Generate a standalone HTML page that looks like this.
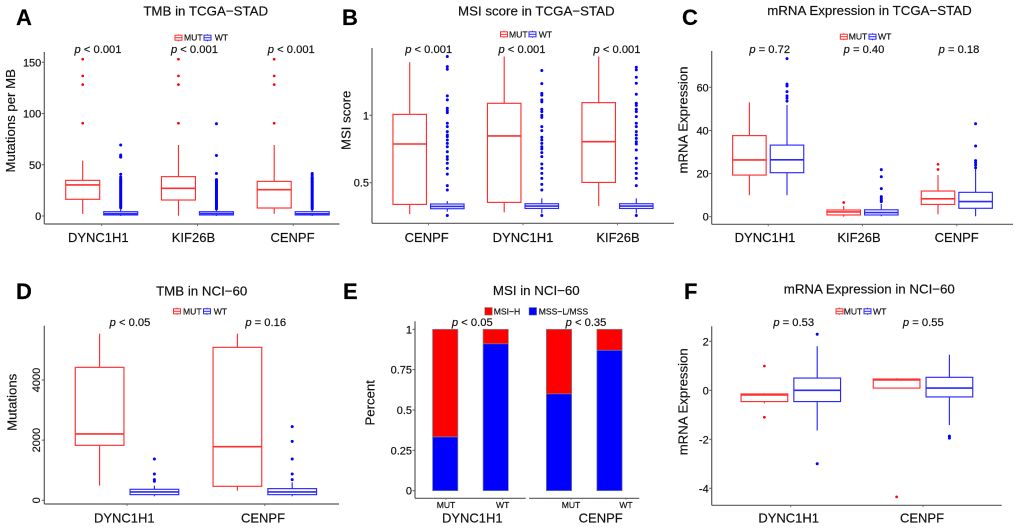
<!DOCTYPE html>
<html lang="en">
<head>
<meta charset="utf-8">
<title>Mutation association panels</title>
<style>
html,body{margin:0;padding:0;background:#fff;width:1020px;height:528px;overflow:hidden}
svg{display:block;font-family:"Liberation Sans",sans-serif;fill:#111;filter:blur(0.35px)}
text{stroke:#111;stroke-width:.18px}
</style>
</head>
<body>
<svg id="figure" xmlns="http://www.w3.org/2000/svg" width="1020" height="528" viewBox="0 0 1020 528"></svg>
<script>
// ===== Panel A: TMB in TCGA-STAD =====
const aTitle = "TMB in TCGA\u2212STAD";
const aYTitle = "Mutations per MB";
const aCategories = ["DYNC1H1", "KIF26B", "CENPF"];
const aPValues = ["< 0.001", "< 0.001", "< 0.001"];
const aYTicks = [0, 50, 100, 150];
// low whisker, q1, median, q3, high whisker
const aMut = [[2, 16.3, 30.3, 34.8, 54], [0.3, 15.6, 27, 38.4, 69.3], [2, 7.8, 25.7, 33.8, 69.3]];
const aWt = [[0, 1, 2.3, 4.2, 7.5], [0, 1, 2.4, 4.2, 7], [0, 1, 2.2, 4.2, 7]];
const aMutOutliers = [[153, 136.7, 128.2, 90.5], [153, 136.7, 128.2, 90.5], [153, 136.7, 128.2, 90.5]];
const aWtOutliers = [
  [69.3, 59.5, 58, 57.5, 40.7, 38, 36, 35, 34, 33, 32, 31, 30, 29, 28, 27, 26, 25, 24, 23, 22, 21, 20, 19, 18, 17, 16, 15, 14, 13, 12, 11, 10, 9, 8],
  [90, 59, 41.5, 35.5, 35, 34, 33, 32, 31, 30, 29, 28, 27, 26, 25, 24, 23, 22, 21, 20, 19, 18, 17, 16, 15, 14, 13, 12, 11, 10, 9, 8, 7],
  [41.5, 40, 38, 37, 36, 35, 34, 33, 32, 31, 30, 29, 28, 27, 26, 25, 24, 23, 22, 21, 20, 19, 18, 17, 16, 15, 14, 13, 12, 11, 10, 9, 8, 7]
];

// ===== Panel B: MSI score in TCGA-STAD =====
const bTitle = "MSI score in TCGA\u2212STAD";
const bYTitle = "MSI score";
const bCategories = ["CENPF", "DYNC1H1", "KIF26B"];
const bPValues = ["< 0.001", "< 0.001", "< 0.001"];
const bYTicks = [0.5, 1];
const bMut = [[0.267, 0.339, 0.787, 1.007, 1.394], [0.28, 0.354, 0.847, 1.089, 1.436], [0.327, 0.502, 0.804, 1.094, 1.436]];
const bWt = [[0.285, 0.307, 0.324, 0.342, 0.364], [0.272, 0.309, 0.327, 0.344, 0.384], [0.272, 0.309, 0.327, 0.344, 0.384]];
const bMutOutliers = [[], [], []];
const bWtOutliers = [
  [1.436, 1.361, 1.342, 1.144, 1.114, 1.052, 1.035, 1.02, 0.941, 0.916, 0.879, 0.854, 0.842, 0.817, 0.792, 0.767, 0.73, 0.693, 0.673, 0.644, 0.606, 0.564, 0.478, 0.446, 0.257],
  [1.332, 1.235, 1.163, 1.15, 1.114, 1.1, 1.045, 1.027, 1.0, 0.985, 0.916, 0.886, 0.837, 0.817, 0.792, 0.767, 0.75, 0.723, 0.693, 0.639, 0.606, 0.569, 0.532, 0.488, 0.446, 0.257],
  [1.356, 1.337, 1.282, 1.238, 1.156, 1.089, 1.074, 1.045, 1.027, 0.99, 0.941, 0.916, 0.879, 0.854, 0.829, 0.804, 0.787, 0.743, 0.681, 0.644, 0.606, 0.569, 0.532, 0.478, 0.257]
];

// ===== Panel C: mRNA Expression in TCGA-STAD =====
const cTitle = "mRNA Expression in TCGA\u2212STAD";
const cYTitle = "mRNA Expression";
const cCategories = ["DYNC1H1", "KIF26B", "CENPF"];
const cPValues = ["= 0.72", "= 0.40", "= 0.18"];
const cYTicks = [0, 20, 40, 60];
const cMut = [[10, 19.3, 26.3, 37.6, 53], [0, 0.8, 2.2, 3.1, 5], [1.1, 5.7, 8.3, 11.9, 19.3]];
const cWt = [[10, 20.4, 26.4, 33.2, 51.8], [0.2, 0.8, 1.9, 3.2, 5.9], [0.2, 3.9, 7, 11.3, 22.4]];
const cMutOutliers = [[], [6.6], [24.3, 21.9]];
const cWtOutliers = [[73.3, 61.5, 60.6, 58, 56, 54.9, 53.6], [21.8, 18.5, 13, 9.3, 8.5, 7.7, 7], [43.1, 32.8, 26, 25, 24, 22.7]];

// ===== Panel D: TMB in NCI-60 =====
const dTitle = "TMB in NCI\u221260";
const dYTitle = "Mutations";
const dCategories = ["DYNC1H1", "CENPF"];
const dPValues = ["< 0.05", "= 0.16"];
const dYTicks = [0, 2000, 4000];
const dMut = [[488, 1828, 2205, 4421, 5540], [321, 465, 1784, 5086, 5540]];
const dWt = [[133, 188, 277, 366, 488], [133, 188, 277, 388, 598]];
const dMutOutliers = [[], []];
const dWtOutliers = [[1374, 875, 687, 632], [2449, 1961, 1374, 875, 687]];

// ===== Panel E: MSI in NCI-60 =====
const eTitle = "MSI in NCI\u221260";
const eYTitle = "Percent";
const eFacets = ["DYNC1H1", "CENPF"];
const eGroups = ["MUT", "WT"];
const ePValues = ["< 0.05", "< 0.35"];
const eYTicks = [0, 0.25, 0.5, 0.75, 1];
const eYTickLabels = ["0", "0.25", "0.5", "0.75", "1"];
const eSeriesNames = ["MSI\u2212H", "MSS\u2212L/MSS"];
// share of MSS-L/MSS per facet, per group; the remainder is MSI-H
const eMss = [[0.333, 0.91], [0.6, 0.87]];

// ===== Panel F: mRNA Expression in NCI-60 =====
const fTitle = "mRNA Expression in NCI\u221260";
const fYTitle = "mRNA Expression";
const fCategories = ["DYNC1H1", "CENPF"];
const fPValues = ["= 0.53", "= 0.55"];
const fYTicks = [-4, -2, 0, 2];
const fMut = [[-0.53, -0.46, -0.19, -0.15, -0.12], [0.08, 0.09, 0.42, 0.46, 0.49]];
const fWt = [[-1.64, -0.46, 0, 0.5, 1.8], [-1.42, -0.27, 0.09, 0.53, 1.45]];
const fMutOutliers = [[0.99, -1.1], [-4.35]];
const fWtOutliers = [[2.29, -3], [-1.87, -1.95]];

const legendNames = ["MUT", "WT"];

const NS = "http://www.w3.org/2000/svg";
const RED = "#ff3030";
const BLUE = "#2a2aff";
const AXIS = "#5a5a5a";
const root = document.getElementById("figure");

function node(parent, tag, attrs, text) {
  const el = document.createElementNS(NS, tag);
  for (const k in attrs) el.setAttribute(k, attrs[k]);
  if (text !== undefined) el.textContent = text;
  parent.appendChild(el);
  return el;
}
function linear(v0, p0, v1, p1) {
  return v => p0 + (v - v0) * (p1 - p0) / (v1 - v0);
}
function line(parent, x1, y1, x2, y2, stroke, w) {
  return node(parent, "line", {x1, y1, x2, y2, stroke, "stroke-width": w});
}

function drawFrame(g, c, title, yTitle) {
  const letter = node(g, "text", {x: c.letterX, y: c.letterY, "font-size": 22, "font-weight": "bold", fill: "#000"}, c.letter);
  
  
  const t = node(g, "text", {x: c.titleX, y: c.titleY, "font-size": 13.3, "text-anchor": "middle"}, title);
  
  
  const yt = node(g, "text", {x: 0, y: 0, "font-size": 13.2, "text-anchor": "middle", transform: `translate(${c.yTitleX},${c.yTitleY}) rotate(-90)`}, yTitle);
  
  
  const ya = line(g, c.axisX, c.top, c.axisX, c.bottom, AXIS, 1.2);
  
  
}
function drawYTicks(g, c, y, ticks, labels) {
  ticks.forEach((v, i) => {
    const py = y(v);
    const tk = line(g, c.axisX - 2.5, py, c.axisX, py, AXIS, 1);
    
    
    const attrs = c.rotateTicks
      ? {x: 0, y: 0, "font-size": 11, "text-anchor": "middle", transform: `translate(${c.axisX - 4.5},${py}) rotate(-90)`}
      : {x: c.axisX - 3, y: py + 4, "font-size": 11, "text-anchor": "end"};
    const lb = node(g, "text", attrs, labels ? labels[i] : String(v));
    
    
  });
}
function drawPLabel(g, x, y, value) {
  const t = node(g, "text", {x, y, "font-size": 11.2, "text-anchor": "middle"});
  
  
  node(t, "tspan", {"font-style": "italic"}, "p");
  node(t, "tspan", {}, " " + value);
}
function drawLegend(g, c) {
  const lg = node(g, "g", {});
  
  
  const colors = [RED, BLUE];
  legendNames.forEach((name, i) => {
    const kx = c.legend[i * 2], tx = c.legend[i * 2 + 1], y = c.legendY;
    const key = node(lg, "g", {});
    
    
    line(key, kx + 3.5, y - 3.5, kx + 3.5, y + 3.5, colors[i], 1);
    node(key, "rect", {x: kx, y: y - 2.5, width: 7, height: 5, fill: "#fff", stroke: colors[i], "stroke-width": 1});
    line(key, kx, y, kx + 7, y, colors[i], 1);
    const lb = node(lg, "text", {x: tx, y: y + 3, "font-size": 8.6}, name);
    
    
  });
}
function drawBox(g, cx, w, stats, outliers, y, color, dotR) {
  const [lo, q1, med, q3, hi] = stats;
  const wh = line(g, cx, y(hi), cx, y(q3), color, 1.15);
  
  
  const wl = line(g, cx, y(q1), cx, y(lo), color, 1.15);
  
  
  const b = node(g, "rect", {x: cx - w / 2, y: y(q3), width: w, height: y(q1) - y(q3), fill: "#fff", stroke: color, "stroke-width": 1.15});
  
  
  const m = line(g, cx - w / 2, y(med), cx + w / 2, y(med), color, 1.6);
  
  
  outliers.forEach(v => {
    const pt = node(g, "circle", {cx, cy: y(v), r: dotR, fill: color === RED ? "#f00" : "#00f"});
    
    
  });
}
function drawBoxPanel(c, d) {
  const g = node(root, "g", {});
  
  
  const y = linear(c.yv0, c.yp0, c.yv1, c.yp1);
  const x = i => c.x0 + i * c.step;
  drawFrame(g, c, d.title, d.yTitle);
  const xa = line(g, c.axisX, c.bottom, c.right, c.bottom, AXIS, 1.2);
  
  
  drawYTicks(g, c, y, d.ticks);
  drawLegend(g, c);
  d.categories.forEach((cat, i) => {
    const tk = line(g, x(i), c.bottom, x(i), c.bottom + 2, AXIS, 0.8);
    
    
    const lb = node(g, "text", {x: x(i) + c.labelShift[i], y: c.labelY, "font-size": 13, "text-anchor": "middle"}, cat);
    
    
    drawPLabel(g, x(i) + c.pShift[i], c.pY, d.pValues[i]);
    drawBox(g, x(i) - c.dodge, c.boxW, d.mut[i], d.mutOut[i], y, RED, 1.35);
    drawBox(g, x(i) + c.dodge, c.boxW, d.wt[i], d.wtOut[i], y, BLUE, 1.5);
  });
}

drawBoxPanel(
  {name: "panel-a-tmb-tcga", letter: "A", letterX: 16, letterY: 25, titleX: 205.7, titleY: 15.5, yTitleX: 15, yTitleY: 120.8,
   axisX: 44.3, top: 52, bottom: 224, right: 339.5, yv0: 0, yp0: 216, yv1: 150, yp1: 62.3,
   x0: 101.7, step: 95.75, dodge: 19, boxW: 34, labelY: 242, labelShift: [-3.4, -4, -0.7], pShift: [-3.7, -3, -1.9], pY: 53,
   legend: [175, 184, 204, 214.7], legendY: 37.7},
  {title: aTitle, yTitle: aYTitle, categories: aCategories, pValues: aPValues, ticks: aYTicks, mut: aMut, wt: aWt, mutOut: aMutOutliers, wtOut: aWtOutliers}
);
drawBoxPanel(
  {name: "panel-b-msi-tcga", letter: "B", letterX: 342, letterY: 25, titleX: 536.3, titleY: 15.5, yTitleX: 350.7, yTitleY: 120.3,
   axisX: 372, top: 48, bottom: 223.3, right: 674, yv0: 0.5, yp0: 182.7, yv1: 1, yp1: 115.3,
   x0: 428.5, step: 94.5, dodge: 18.8, boxW: 33.5, labelY: 242, labelShift: [-1.8, 0, 0.5], pShift: [0.2, -1, -0.5], pY: 53,
   legend: [500.5, 509, 529, 538.7], legendY: 34.3},
  {title: bTitle, yTitle: bYTitle, categories: bCategories, pValues: bPValues, ticks: bYTicks, mut: bMut, wt: bWt, mutOut: bMutOutliers, wtOut: bWtOutliers}
);
drawBoxPanel(
  {name: "panel-c-mrna-tcga", letter: "C", letterX: 682, letterY: 25, titleX: 869.5, titleY: 15, yTitleX: 687.3, yTitleY: 120,
   axisX: 711.7, top: 51, bottom: 224.3, right: 1013, yv0: 0, yp0: 216.7, yv1: 60, yp1: 87.3,
   x0: 768.2, step: 94.3, dodge: 18.8, boxW: 33.5, labelY: 242, labelShift: [-3.2, -3.5, -0.1], pShift: [1.5, 1.5, 2.2], pY: 53,
   legend: [840.3, 848.7, 869, 878], legendY: 36.7},
  {title: cTitle, yTitle: cYTitle, categories: cCategories, pValues: cPValues, ticks: cYTicks, mut: cMut, wt: cWt, mutOut: cMutOutliers, wtOut: cWtOutliers}
);
drawBoxPanel(
  {name: "panel-d-tmb-nci", letter: "D", letterX: 16, letterY: 299, titleX: 201.7, titleY: 295.3, yTitleX: 16.7, yTitleY: 402.3, rotateTicks: true,
   axisX: 44.3, top: 325.7, bottom: 504, right: 339, yv0: 0, yp0: 500.3, yv1: 4000, yp1: 380,
   x0: 127, step: 137.8, dodge: 27.4, boxW: 48.7, labelY: 522.3, labelShift: [-2.7, -1.8], pShift: [3, 0.9], pY: 326,
   legend: [173.5, 183, 203.5, 213.7], legendY: 311.3},
  {title: dTitle, yTitle: dYTitle, categories: dCategories, pValues: dPValues, ticks: dYTicks, mut: dMut, wt: dWt, mutOut: dMutOutliers, wtOut: dWtOutliers}
);
drawBoxPanel(
  {name: "panel-f-mrna-nci", letter: "F", letterX: 684, letterY: 299, titleX: 869.3, titleY: 293.3, yTitleX: 687.3, yTitleY: 401.8,
   axisX: 711.7, top: 326.3, bottom: 505.3, right: 1001.7, yv0: 0, yp0: 390.3, yv1: 2, yp1: 341.3,
   x0: 790.8, step: 132.2, dodge: 26.4, boxW: 46.7, labelY: 522.3, labelShift: [-2.1, -1], pShift: [2.9, 0.3], pY: 326,
   legend: [836, 843.7, 864, 873], legendY: 311.3},
  {title: fTitle, yTitle: fYTitle, categories: fCategories, pValues: fPValues, ticks: fYTicks, mut: fMut, wt: fWt, mutOut: fMutOutliers, wtOut: fWtOutliers}
);

// Panel E stacked bars
(function drawPanelE() {
  const c = {letter: "E", letterX: 343, letterY: 299, titleX: 536.3, titleY: 295, yTitleX: 374.3, yTitleY: 402.8,
             axisX: 415, top: 321.3, bottom: 498.3};
  const g = node(root, "g", {});
  
  
  const y = linear(0, 490.7, 1, 329.3);
  const barX = (f, s) => 445.2 + f * 113.8 + s * 50.5;
  const barW = 25.3;
  const groupShift = [[0.8, 7], [12, 16.5]];
  const facetLabelX = [472.3, 600.7];
  const pLabelX = [472.3, 586];
  const axisSpans = [[415, 525.7], [529, 639.3]];
  drawFrame(g, c, eTitle, eYTitle);
  axisSpans.forEach(s => {
    const xa = line(g, s[0], c.bottom, s[1], c.bottom, AXIS, 1.2);
    
    
  });
  drawYTicks(g, c, y, eYTicks, eYTickLabels);
  eFacets.forEach((facet, f) => {
    eGroups.forEach((grp, s) => {
      const cx = barX(f, s), v = eMss[f][s];
      const red = node(g, "rect", {x: cx - barW / 2, y: y(1), width: barW, height: y(v) - y(1), fill: "#f00", stroke: "#7a8896", "stroke-width": 0.7});
      
      
      const blue = node(g, "rect", {x: cx - barW / 2, y: y(v), width: barW, height: y(0) - y(v), fill: "#00f", stroke: "#7a8896", "stroke-width": 0.7});
      
      
      const lb = node(g, "text", {x: cx + groupShift[f][s], y: 508, "font-size": 8.6, "text-anchor": "middle"}, grp);
      
      
      const tk = line(g, cx + groupShift[f][s], c.bottom, cx + groupShift[f][s], c.bottom + 1.5, AXIS, 0.8);
      
      
    });
    const fl = node(g, "text", {x: facetLabelX[f], y: 522.3, "font-size": 13, "text-anchor": "middle"}, facet);
    
    
    drawPLabel(g, pLabelX[f], 326, ePValues[f]);
  });
  const lg = node(g, "g", {});
  
  
  const keys = [[484.7, "#f00", 493.7], [529, "#00f", 538.7]];
  eSeriesNames.forEach((name, i) => {
    const k = node(lg, "rect", {x: keys[i][0], y: 307.5, width: 7.6, height: 7.6, fill: keys[i][1], stroke: "#7a8896", "stroke-width": 0.5});
    
    
    const t = node(lg, "text", {x: keys[i][2], y: 314.3, "font-size": 8.6}, name);
    
    
  });
})();
</script>
</body>
</html>
